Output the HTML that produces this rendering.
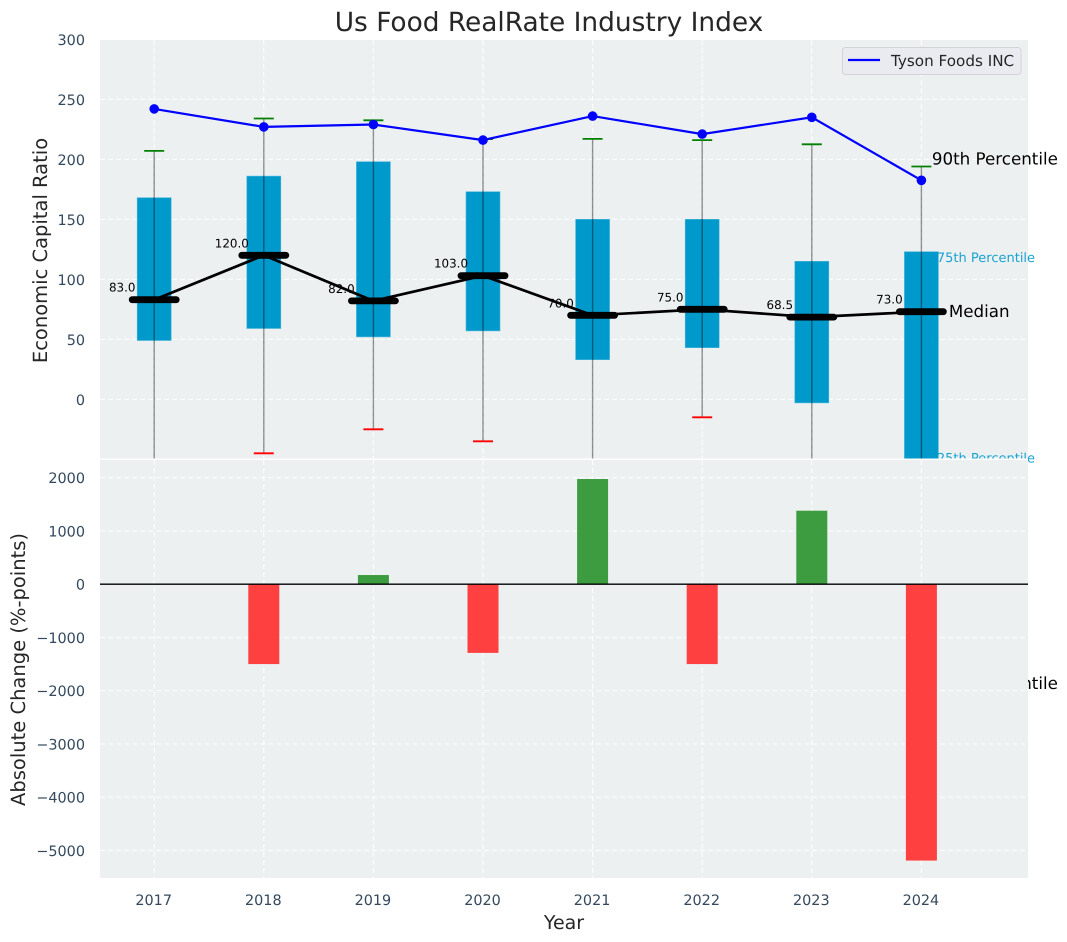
<!DOCTYPE html>
<html lang="en">
<head>
<meta charset="utf-8">
<title>Us Food RealRate Industry Index</title>
<style>
  html, body { margin: 0; padding: 0; background: #fff; }
  svg { display: block; font-family: "DejaVu Sans", "Liberation Sans", sans-serif; text-rendering: geometricPrecision; }
</style>
</head>
<body>
<svg id="chart" xmlns="http://www.w3.org/2000/svg" width="1067" height="942" viewBox="0 0 1067 942">
  <defs>
    <clipPath id="clip-top"><rect x="100" y="40" width="928" height="418.5"/></clipPath>
    <clipPath id="clip-bottom"><rect x="100" y="460" width="928" height="418"/></clipPath>
  </defs>
  <rect width="1067" height="942" fill="#ffffff"/>
  <text x="549" y="31" text-anchor="middle" font-size="26.4px" fill="#262626">Us Food RealRate Industry Index</text>
  <rect x="100" y="40" width="928" height="418.5" fill="#ecf0f1"/>
  <g id="top-grid"></g>
  <g id="top-marks" clip-path="url(#clip-top)"></g>
  <g id="top-notes"></g>
  <rect x="100" y="460" width="928" height="418" fill="#ecf0f1"/>
  <rect x="100" y="458.5" width="928" height="1.5" fill="#ffffff"/>
  <g id="bottom-grid"></g>
  <g id="bottom-marks" clip-path="url(#clip-bottom)"></g>
  <g id="tick-labels"></g>
  <text transform="translate(47,250.5) rotate(-90)" text-anchor="middle" font-size="19.5px" fill="#262626">Economic Capital Ratio</text>
  <text transform="translate(25,669.5) rotate(-90)" text-anchor="middle" font-size="19.5px" fill="#262626">Absolute Change (%-points)</text>
  <text x="564" y="929" text-anchor="middle" font-size="19px" fill="#262626">Year</text>
  <g>
    <rect x="842.5" y="47.5" width="178.5" height="27" rx="3" fill="#eaebf1" stroke="#d3d3d6" stroke-width="1"/>
    <line x1="848" y1="60" x2="880" y2="60" stroke="#0000ff" stroke-width="2.2"/>
    <text x="891" y="66" font-size="15.2px" fill="#262626">Tyson Foods INC</text>
  </g>
</svg>
<script>
const years = [2017, 2018, 2019, 2020, 2021, 2022, 2023, 2024];
const tyson = [242, 227, 229, 216, 236, 221, 235, 182.5];
const p90 = [207, 234, 232.5, 216.8, 217, 216, 212.5, 194];
const q3 = [168, 186, 198, 173, 150, 150, 115, 123];
const medians = [83, 120, 82, 103, 70, 75, 68.5, 73];
const medianLabels = ["83.0", "120.0", "82.0", "103.0", "70.0", "75.0", "68.5", "73.0"];
const q1 = [49, 59, 52, 57, 33, 43, -3, -55];
const p10 = [-60, -45, -25, -35, -70, -15, -80, -243];
const changes = [0, -1500, 172, -1290, 1975, -1500, 1380, -5190];
const topTicks = [300, 250, 200, 150, 100, 50, 0];
const bottomTicks = [2000, 1000, 0, -1000, -2000, -3000, -4000, -5000];

const NS = 'http://www.w3.org/2000/svg';
const xPos = function (year) { return 154.2 + (year - 2017) * 109.6; };
const yTop = function (v) { return 399.3 - v * 1.2; };
const yBottom = function (v) { return 584.2 - v * 0.05325; };
const fmt = function (v) { return v < 0 ? '\u2212' + Math.abs(v) : String(v); };

function make(tag, parent, attrs, text) {
  const el = document.createElementNS(NS, tag);
  for (const k in attrs) el.setAttribute(k, attrs[k]);
  if (text !== undefined) el.textContent = text;
  parent.appendChild(el);
  return el;
}

const topGrid = document.getElementById('top-grid');
const topMarks = document.getElementById('top-marks');
const topNotes = document.getElementById('top-notes');
const bottomGrid = document.getElementById('bottom-grid');
const bottomMarks = document.getElementById('bottom-marks');
const tickLabels = document.getElementById('tick-labels');
const gridStyle = { stroke: '#ffffff', 'stroke-width': 1.2, 'stroke-dasharray': '5 3', 'stroke-opacity': 0.85 };

topTicks.forEach(function (t) {
  const line = make('line', topGrid, Object.assign({ x1: 100, x2: 1028, y1: yTop(t), y2: yTop(t) }, gridStyle));
  
  
  const label = make('text', tickLabels, { x: 85, y: yTop(t) + 5.5, 'text-anchor': 'end', 'font-size': '14.4px', fill: '#34495e' }, fmt(t));
  
  
});

bottomTicks.forEach(function (t) {
  const line = make('line', bottomGrid, Object.assign({ x1: 100, x2: 1028, y1: yBottom(t), y2: yBottom(t) }, gridStyle));
  
  
  const label = make('text', tickLabels, { x: 85, y: yBottom(t) + 5.5, 'text-anchor': 'end', 'font-size': '14.4px', fill: '#34495e' }, fmt(t));
  
  
});

years.forEach(function (yr) {
  const x = xPos(yr);
  const gridA = make('line', topGrid, Object.assign({ x1: x, x2: x, y1: 40, y2: 458.5 }, gridStyle));
  
  
  const gridB = make('line', bottomGrid, Object.assign({ x1: x, x2: x, y1: 460, y2: 878 }, gridStyle));
  
  
  const label = make('text', tickLabels, { x: x - 0.5, y: 905, 'text-anchor': 'middle', 'font-size': '14.4px', fill: '#34495e' }, String(yr));
  
  
});

// interquartile boxes
years.forEach(function (yr, i) {
  const box = make('rect', topMarks, { x: xPos(yr) - 17, y: yTop(q3[i]), width: 34, height: yTop(q1[i]) - yTop(q3[i]), fill: '#0099cc', stroke: '#4db8dc', 'stroke-width': 0.6 });
  
  
});

// whiskers and caps
years.forEach(function (yr, i) {
  const x = xPos(yr);
  const whisker = make('line', topMarks, { x1: x, x2: x, y1: yTop(p90[i]), y2: yTop(p10[i]), stroke: '#000000', 'stroke-opacity': 0.42, 'stroke-width': 1.4 });
  
  
  const capHigh = make('line', topMarks, { x1: x - 10, x2: x + 10, y1: yTop(p90[i]), y2: yTop(p90[i]), stroke: '#008000', 'stroke-width': 1.8 });
  
  
  const capLow = make('line', topMarks, { x1: x - 10, x2: x + 10, y1: yTop(p10[i]), y2: yTop(p10[i]), stroke: '#ff0000', 'stroke-width': 1.8 });
  
  
});

// median trend line
const medianPath = make('polyline', topMarks, {
  points: years.map(function (yr, i) { return xPos(yr) + ',' + yTop(medians[i]); }).join(' '),
  fill: 'none', stroke: '#000000', 'stroke-width': 2.7
});



years.forEach(function (yr, i) {
  const x = xPos(yr);
  const y = yTop(medians[i]);
  const bar = make('line', topMarks, { x1: x - 22, x2: x + 22, y1: y, y2: y, stroke: '#000000', 'stroke-width': 6.8, 'stroke-linecap': 'round' });
  
  
  const label = make('text', topMarks, { x: x - 32, y: y - 8, 'text-anchor': 'middle', 'font-size': '11.9px', fill: '#000000' }, medianLabels[i]);
  
  
});

// company series
const tysonPath = make('polyline', topMarks, {
  points: years.map(function (yr, i) { return xPos(yr) + ',' + yTop(tyson[i]); }).join(' '),
  fill: 'none', stroke: '#0000ff', 'stroke-width': 2.2
});



years.forEach(function (yr, i) {
  const point = make('circle', topMarks, { cx: xPos(yr), cy: yTop(tyson[i]), r: 4.8, fill: '#0000ff' });
  
  
});

// annotations on the final year
const last = years.length - 1;
const lastX = xPos(years[last]);
const note90 = make('text', topNotes, { x: lastX + 10.5, y: yTop(p90[last]) - 2, 'font-size': '16.7px', fill: '#000000' }, '90th Percentile');


const note75 = make('text', topNotes, { x: lastX + 15.5, y: yTop(q3[last]) + 10.5, 'font-size': '13px', fill: '#1aa3d1' }, '75th Percentile');


const noteMedian = make('text', topNotes, { x: lastX + 27.5, y: yTop(medians[last]) + 5.5, 'font-size': '16.7px', fill: '#000000' }, 'Median');


const note25 = make('text', topNotes, { x: lastX + 15.5, y: yTop(q1[last]) - 3, 'font-size': '13px', fill: '#1aa3d1' }, '25th Percentile');


const note10 = make('text', topNotes, { x: lastX + 10.5, y: yTop(p10[last]) - 2, 'font-size': '16.7px', fill: '#000000' }, '10th Percentile');



// change bars
years.forEach(function (yr, i) {
  const v = changes[i];
  if (v === 0) return;
  const top = Math.min(yBottom(v), yBottom(0));
  const h = Math.abs(yBottom(v) - yBottom(0));
  const rect = make('rect', bottomMarks, { x: xPos(yr) - 15.5, y: top, width: 31, height: h, fill: v > 0 ? '#3c9c3f' : '#ff4040' });
  
  
});

const zeroLine = make('line', bottomMarks, { x1: 100, x2: 1028, y1: yBottom(0), y2: yBottom(0), stroke: '#000000', 'stroke-width': 1.4 });


</script>
</body>
</html>
